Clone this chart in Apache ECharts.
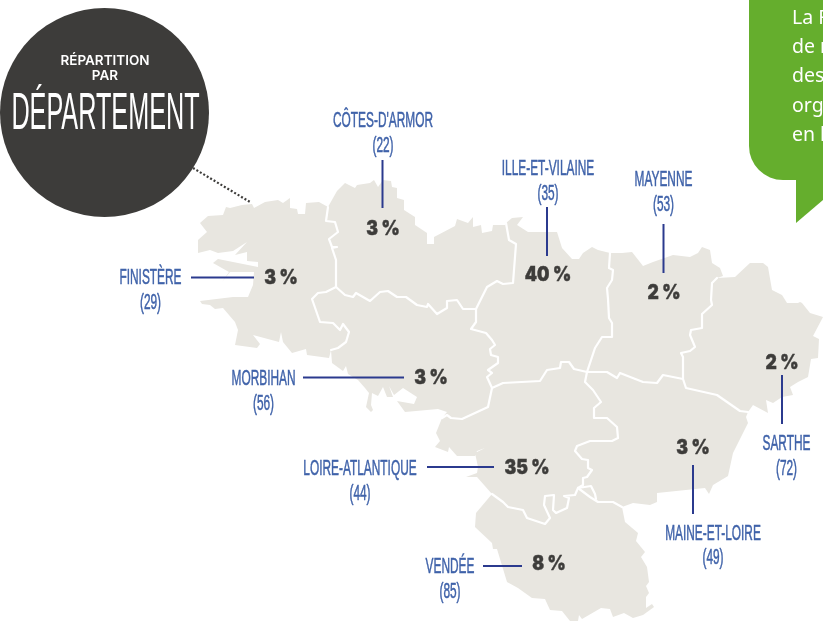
<!DOCTYPE html>
<html><head><meta charset="utf-8">
<style>html,body{margin:0;padding:0;background:#fff;overflow:hidden}#c{width:823px;height:621px}</style>
<script src="https://cdn.jsdelivr.net/npm/echarts@6/dist/echarts.min.js"></script>
</head><body><div id="c"></div>
<script>
// ---- chart content
const names  = ["CÔTES-D'ARMOR","ILLE-ET-VILAINE","MAYENNE","FINISTÈRE","MORBIHAN","LOIRE-ATLANTIQUE","VENDÉE","SARTHE","MAINE-ET-LOIRE"];
const codes  = ["22","35","53","29","56","44","85","72","49"];
const shares = [3,40,2,3,3,35,8,2,3];
const calloutText = ["La F","de r","des","org","en l"];

// ---- map geometry (traced boundary segments in the map's own plane)
const coastFin=[[331,350],[329,358],[307,355],[306,349],[292,353],[283,342],[281,332],[279,342],[253,335],[260,344],[257,348],[235,345],[238,330],[235,322],[223,308],[215,309],[210,305],[202,304],[200,301],[233,297],[248,297],[253,285],[254,272],[230,272],[222,282],[229,272],[213,263],[218,259],[258,267],[258,262],[247,261],[247,252],[235,255],[247,242],[233,251],[218,253],[210,250],[198,253],[198,240],[207,232],[200,223],[208,216],[223,215],[226,207],[230,208],[242,205],[252,204],[254,208],[265,202],[278,200],[283,203],[290,198],[290,208],[297,209],[298,214],[305,214],[306,203],[319,202],[328,207]];
const coastCot=[[328,207],[337,191],[345,183],[355,188],[357,185],[370,183],[374,180],[378,187],[383,180],[391,181],[392,187],[397,188],[397,198],[404,200],[404,210],[415,217],[415,225],[427,233],[427,244],[434,244],[434,237],[455,226],[457,219],[468,223],[473,217],[473,227],[481,225],[482,233],[492,231],[493,225],[505,225],[506,223]];
const coastIV=[[506,223],[512,218],[523,217],[517,225],[528,232],[557,232],[562,248],[572,259],[579,259],[583,253],[592,247],[598,250],[610,253]];
const coastMay=[[610,253],[622,253],[632,252],[643,266],[653,262],[673,255],[690,257],[698,253],[702,247],[710,250],[712,263],[720,268],[723,276],[717,278]];
const coastSar=[[748,412],[753,405],[768,413],[766,400],[773,403],[782,397],[793,395],[790,387],[798,382],[808,377],[811,359],[818,358],[819,339],[813,336],[823,317],[810,313],[802,303],[800,302],[798,303],[787,303],[782,295],[772,290],[768,267],[763,263],[750,263],[735,277],[717,278]];
const coastMai=[[748,412],[746,417],[748,423],[733,453],[728,476],[713,485],[709,494],[705,488],[657,493],[657,502],[650,505],[633,503],[622,507]];
const coastVen=[[622,507],[625,522],[638,533],[636,541],[645,552],[641,557],[647,567],[649,582],[646,586],[649,593],[646,597],[646,608],[652,604],[654,607],[643,615],[633,618],[624,613],[613,617],[610,609],[601,608],[582,619],[579,615],[578,621],[570,621],[562,611],[550,610],[545,599],[532,598],[518,588],[507,582],[497,549],[493,549],[492,543],[475,527],[476,513],[492,494]];
const coastLA=[[442,418],[436,433],[440,441],[435,447],[448,452],[449,447],[457,456],[475,456],[477,451],[485,448],[475,453],[478,467],[477,473],[466,477],[477,477],[492,494]];
const coastMor=[[442,418],[447,412],[438,409],[405,412],[397,401],[414,404],[417,397],[403,388],[394,395],[389,386],[393,397],[387,397],[383,387],[378,396],[372,393],[371,405],[373,410],[371,412],[366,407],[369,393],[365,388],[358,380],[348,374],[346,366],[343,371],[332,363],[331,350]];
const bFinCot=[[328,207],[326,221],[335,222],[338,232],[329,239],[332,247],[337,247],[332,248],[336,260],[336,287]];
const bFinMor=[[336,287],[326,292],[318,293],[312,299],[320,322],[333,323],[340,330],[343,324],[349,332],[346,342],[338,348],[331,350]];
const bCotMor=[[336,287],[345,295],[353,297],[356,293],[370,301],[380,292],[388,291],[397,297],[406,297],[417,305],[427,307],[428,304],[437,314],[447,308],[447,301],[457,300],[463,309],[476,309]];
const bCotIV=[[506,223],[509,240],[516,244],[513,283],[503,284],[497,281],[487,287],[476,309]];
const bMorIV=[[476,309],[476,322],[471,329],[486,333],[492,340],[495,345],[490,349],[491,355],[498,357],[498,363],[488,370],[492,373],[487,377],[492,388]];
const bMorLA=[[492,388],[488,407],[462,419],[451,418],[447,415],[442,418]];
const bIVMay=[[610,253],[609,268],[613,270],[612,280],[607,288],[608,299],[609,318],[612,323],[612,337],[602,337],[595,348],[587,372]];
const bIVLA=[[492,388],[503,383],[540,381],[547,370],[560,368],[561,362],[569,362],[574,369],[587,372]];
const bMaySar=[[717,278],[712,283],[711,300],[712,305],[702,314],[702,328],[691,330],[690,335],[695,347],[690,351],[681,353],[683,357],[683,379]];
const bMayMai=[[587,372],[607,372],[617,378],[620,373],[643,382],[657,383],[663,375],[683,379]];
const bSarMai=[[683,379],[686,388],[717,395],[740,411],[748,412]];
const bLAMai=[[587,372],[585,382],[593,390],[601,402],[594,408],[594,418],[607,418],[617,427],[618,438],[612,441],[590,441],[577,446],[575,451],[582,459],[588,460],[588,468],[592,470],[587,477],[583,478],[583,485],[578,488]];
const bLAVen=[[492,494],[503,502],[508,507],[523,510],[527,518],[545,524],[550,518],[544,505],[545,496],[554,495],[553,510],[556,513],[567,508],[569,498],[564,496],[575,495],[578,488]];
const bMaiVen=[[578,488],[590,497],[598,502],[613,502],[622,507]];
const bMaiIsle=[[578,488],[591,486],[595,494],[596,499]];

// ---- label anchors in the same plane, order as names
const leaders=[[[382.5,160],[382.5,208]],[[547,207],[547,256]],[[663.5,224],[663.5,273]],[[191,277.5],[254,277.5]],[[303,377.5],[404,377.5]],[[427,467],[494,467]],[[483,566],[522,566]],[[782,375],[782,424]],[[693,465],[693,514]]];
const nameAt=[[383,133.5],[548,181.5],[663.5,192.5],[150.5,290.5],[263.5,391.5],[360,481.5],[450,579.5],[786.5,456.5],[713,546]];
const shareAt=[[383,229],[548,275],[664,293],[281,278.5],[431,378.5],[527,468],[549,564.5],[782,363],[693,448]];

// ---- assemble
const rev=a=>a.slice().reverse();
const ring=(...p)=>{const r=[].concat(...p);r.push(r[0]);return r;};
const regions={
 "Finistère":ring(bFinCot,bFinMor,coastFin),
 "Côtes-d'Armor":ring(coastCot,bCotIV,rev(bCotMor),rev(bFinCot)),
 "Morbihan":ring(bCotMor,bMorIV,bMorLA,coastMor,rev(bFinMor)),
 "Ille-et-Vilaine":ring(coastIV,bIVMay,rev(bIVLA),rev(bMorIV),rev(bCotIV)),
 "Mayenne":ring(coastMay,bMaySar,rev(bMayMai),rev(bIVMay)),
 "Sarthe":ring(coastSar,bMaySar,bSarMai),
 "Maine-et-Loire":ring(bMayMai,bSarMai,coastMai,rev(bMaiVen),rev(bLAMai)),
 "Loire-Atlantique":ring(bIVLA,bLAMai,rev(bLAVen),rev(coastLA),rev(bMorLA)),
 "Vendée":ring(bLAVen,bMaiVen,coastVen)
};
const geoJson={type:'FeatureCollection',features:Object.keys(regions).map(n=>({type:'Feature',properties:{name:n},geometry:{type:'Polygon',coordinates:[regions[n]]}}))};
echarts.registerMap('pdl',geoJson);
const all=[].concat(...Object.values(regions));
const xs=all.map(p=>p[0]),ys=all.map(p=>p[1]);
const minX=Math.min(...xs),maxX=Math.max(...xs),minY=Math.min(...ys),maxY=Math.max(...ys);
const borders=[bFinCot,bFinMor,bCotMor,bCotIV,bMorIV,bMorLA,bIVMay,bIVLA,bMaySar,bMayMai,bSarMai,bLAMai,bLAVen,bMaiVen,bMaiIsle];

const NAVY='#2b3a8e',BLUE='#3f62a9',DARK='#3d3c3a',LAND='#e8e6e0',GREEN='#65ae2d';
const chart=echarts.init(document.getElementById('c'),null,{renderer:'canvas'});
chart.setOption({
 animation:false,
 backgroundColor:'#fff',
 geo:{map:'pdl',roam:false,silent:true,left:minX,top:minY,width:maxX-minX,height:maxY-minY,
  projection:{project:p=>p,unproject:p=>p},
  label:{show:false},
  itemStyle:{areaColor:LAND,borderWidth:0,borderColor:LAND},
  emphasis:{disabled:true},select:{disabled:true}},
 series:[
  {type:'lines',coordinateSystem:'geo',polyline:true,silent:true,z:3,
   data:borders.map(c=>({coords:c})),lineStyle:{color:'#fff',width:2.2,opacity:1,cap:'round',join:'round'}},
  {type:'lines',coordinateSystem:'geo',polyline:true,silent:true,z:4,
   data:leaders.map(c=>({coords:c})),lineStyle:{color:NAVY,width:2,opacity:1}},
  {type:'custom',coordinateSystem:'geo',silent:true,z:5,clip:false,
   data:names.map((n,i)=>[nameAt[i][0],nameAt[i][1],n,codes[i]]),
   renderItem:(p,api)=>{const c=api.coord([api.value(0),api.value(1)]);
    return {type:'text',x:c[0],y:c[1],scaleX:0.54,scaleY:1,
     style:{text:names[p.dataIndex]+'\n('+codes[p.dataIndex]+')',fill:BLUE,stroke:BLUE,lineWidth:0.5,font:'400 22px "Liberation Sans"',lineHeight:24.5,textAlign:'center',textVerticalAlign:'middle'}};}},
  {type:'custom',coordinateSystem:'geo',silent:true,z:5,clip:false,
   data:shares.map((v,i)=>[shareAt[i][0],shareAt[i][1],v]),
   renderItem:(p,api)=>{const c=api.coord([api.value(0),api.value(1)]);
    return {type:'text',x:c[0],y:c[1],scaleY:1.12,
     style:{text:shares[p.dataIndex]+' %',fill:DARK,stroke:DARK,lineWidth:0.4,font:'900 17.5px Inter',textAlign:'center',textVerticalAlign:'middle'}};}}
 ],
 graphic:[
  {type:'rect',z:1,silent:true,shape:{x:749,y:-50,width:120,height:230,r:[0,0,0,34]},style:{fill:GREEN}},
  {type:'polygon',z:1,silent:true,shape:{points:[[796,178],[830,178],[830,194],[796,223]]},style:{fill:GREEN}},
  ...calloutText.map((t,i)=>({type:'text',z:2,silent:true,x:792,y:[18,47,76,106,135][i],style:{text:t,fill:'#fff',font:'400 19.5px "Noto Sans"',textVerticalAlign:'middle'}})),
  {type:'polyline',z:1,silent:true,shape:{points:[[193,168],[250,202]]},style:{stroke:'#3d3c3a',lineWidth:2.2,lineDash:[2,2],fill:null}},
  {type:'circle',z:2,silent:true,shape:{cx:104.5,cy:112.5,r:104.5},style:{fill:DARK}},
  {type:'text',z:3,silent:true,x:105,y:61,style:{text:'RÉPARTITION',fill:'#fff',font:'600 13.5px Inter',textAlign:'center',textVerticalAlign:'middle'}},
  {type:'text',z:3,silent:true,x:105,y:76,style:{text:'PAR',fill:'#fff',font:'600 13.5px Inter',textAlign:'center',textVerticalAlign:'middle'}},
  {type:'text',z:3,silent:true,x:105.5,y:114.5,scaleX:0.485,style:{text:'DÉPARTEMENT',fill:'#fff',font:'300 52px "Liberation Sans"',textAlign:'center',textVerticalAlign:'middle'}}
 ]
});
</script></body></html>
